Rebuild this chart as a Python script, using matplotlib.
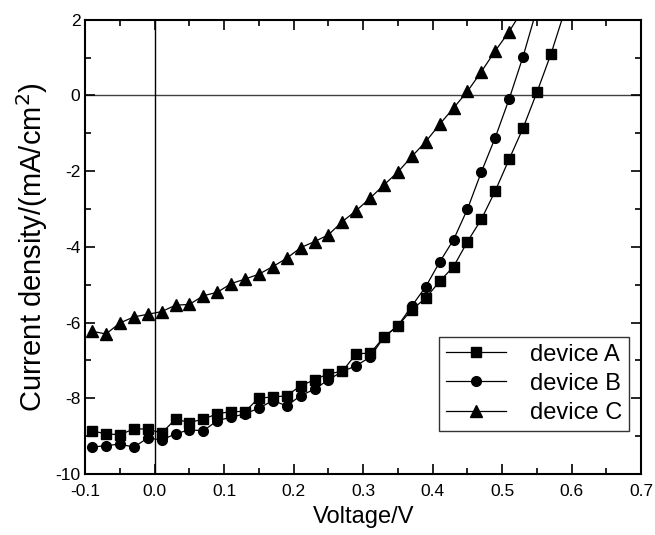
import numpy as np
import matplotlib
matplotlib.use("Agg")
import matplotlib.pyplot as plt
from matplotlib.ticker import MultipleLocator

plt.rcParams["font.family"] = ["Liberation Sans", "DejaVu Sans"]
plt.rcParams["axes.unicode_minus"] = False

# voltage (V) and current density (mA/cm^2)
v_a = [-0.09, -0.07, -0.05, -0.03, -0.01, 0.01, 0.03, 0.05, 0.07, 0.09, 0.11, 0.13,
       0.15, 0.17, 0.19, 0.21, 0.23, 0.25, 0.27, 0.29, 0.31, 0.33, 0.35, 0.37,
       0.39, 0.41, 0.43, 0.45, 0.47, 0.49, 0.51, 0.53, 0.55, 0.57, 0.59]
j_a = [-8.86, -8.94, -8.96, -8.81, -8.81, -8.92, -8.55, -8.64, -8.55, -8.41, -8.35, -8.35,
       -7.99, -7.97, -7.93, -7.67, -7.51, -7.35, -7.29, -6.82, -6.81, -6.38, -6.08, -5.66,
       -5.35, -4.91, -4.52, -3.86, -3.27, -2.52, -1.68, -0.86, 0.09, 1.09, 2.24]

v_b = [-0.09, -0.07, -0.05, -0.03, -0.01, 0.01, 0.03, 0.05, 0.07, 0.09, 0.11, 0.13,
       0.15, 0.17, 0.19, 0.21, 0.23, 0.25, 0.27, 0.29, 0.31, 0.33, 0.35, 0.37,
       0.39, 0.41, 0.43, 0.45, 0.47, 0.49, 0.51, 0.53, 0.55]
j_b = [-9.29, -9.25, -9.21, -9.29, -9.05, -9.10, -8.94, -8.83, -8.86, -8.59, -8.50, -8.41,
       -8.26, -8.06, -8.20, -7.93, -7.76, -7.51, -7.29, -7.14, -6.91, -6.38, -6.08, -5.56,
       -5.05, -4.40, -3.81, -3.00, -2.02, -1.11, -0.09, 1.03, 2.30]

v_c = [-0.09, -0.07, -0.05, -0.03, -0.01, 0.01, 0.03, 0.05, 0.07, 0.09, 0.11, 0.13,
       0.15, 0.17, 0.19, 0.21, 0.23, 0.25, 0.27, 0.29, 0.31, 0.33, 0.35, 0.37,
       0.39, 0.41, 0.43, 0.45, 0.47, 0.49, 0.51, 0.53]
j_c = [-6.23, -6.30, -6.01, -5.85, -5.78, -5.71, -5.54, -5.52, -5.29, -5.20, -4.97, -4.85,
       -4.72, -4.52, -4.30, -4.02, -3.86, -3.68, -3.33, -3.04, -2.71, -2.36, -2.02, -1.61,
       -1.22, -0.76, -0.33, 0.11, 0.63, 1.18, 1.69, 2.28]

labels = ["device A", "device B", "device C"]

fig = plt.figure(figsize=(6.55, 5.35), dpi=100)
ax = fig.add_axes([0.130, 0.114, 0.849, 0.849])

# reference lines through the origin
ax.axhline(0, color="#404040", lw=1.0, zorder=1)
ax.axvline(0, color="black", lw=1.0, zorder=1)

ax.plot(v_a, j_a, color="black", lw=0.9, marker="s", ms=6.5, label=labels[0])
ax.plot(v_b, j_b, color="black", lw=0.9, marker="o", ms=7, label=labels[1])
ax.plot(v_c, j_c, color="black", lw=0.9, marker="^", ms=8, label=labels[2])

ax.set_xlim(-0.1, 0.7)
ax.set_ylim(-10, 2)
ax.xaxis.set_major_locator(MultipleLocator(0.1))
ax.xaxis.set_minor_locator(MultipleLocator(0.05))
ax.yaxis.set_major_locator(MultipleLocator(2))
ax.yaxis.set_minor_locator(MultipleLocator(1))
ax.set_xticklabels([f"{t:.1f}" for t in ax.get_xticks()])

ax.tick_params(which="both", direction="in", top=True, right=True, labelsize=12.5, width=1.2)
ax.tick_params(which="major", length=7)
ax.tick_params(which="minor", length=4)
ax.tick_params(axis="x", pad=7)
for s in ax.spines.values():
    s.set_linewidth(1.5)

ax.set_xlabel("Voltage/V", fontsize=17, labelpad=5)
ax.set_ylabel("Current density/(mA/cm$^2$)", fontsize=21, labelpad=4)

leg = ax.legend(loc="lower right", bbox_to_anchor=(0.978, 0.095), borderaxespad=0,
                fontsize=17, handlelength=2.55, frameon=True, fancybox=False,
                edgecolor="#333333", framealpha=1, labelspacing=0.3, borderpad=0.3,
                handletextpad=1.0)
leg.get_frame().set_linewidth(1.0)

fig.savefig("out.png", dpi=100)
